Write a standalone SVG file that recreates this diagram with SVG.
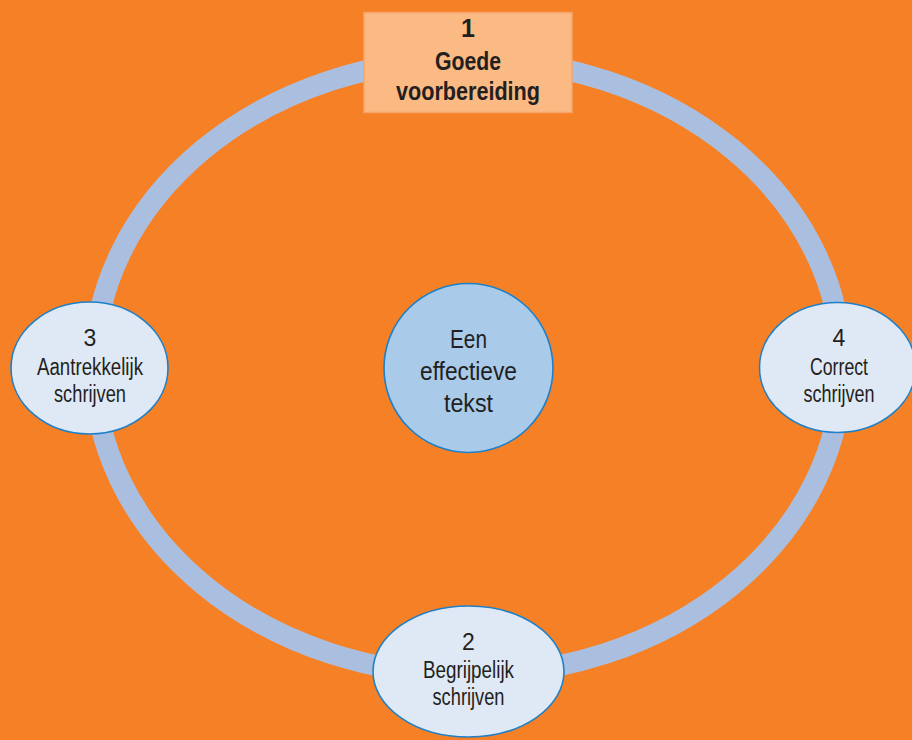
<svg xmlns="http://www.w3.org/2000/svg" width="912" height="740" viewBox="0 0 912 740">
  <style>
    .bg { fill: #F58025; }
    .ring { fill: none; stroke: #AABFE0; stroke-width: 21; }
    .node { fill: #DFE8F5; stroke: #1F80C8; stroke-width: 1.6; }
    .core { fill: #A9CAE9; stroke: #1F80C8; stroke-width: 1.6; }
    .box { fill: #FBB983; stroke: #F9A46A; stroke-width: 1.5; }
    text { font-family: "Liberation Sans", Arial, sans-serif; fill: #231F20; text-anchor: middle; }
    .lbl { font-size: 23px; }
    .big { font-size: 25px; }
    .head { font-size: 25px; font-weight: bold; }
  </style>

  <rect class="bg" x="0" y="0" width="912" height="740"/>

  <!-- cycle track joining the four steps -->
  <g id="connectors">
    <ellipse class="ring" cx="468" cy="367" rx="374" ry="308"/>
  </g>

  <g id="node-1">
    <rect class="box" x="364" y="12.5" width="208" height="100"/>
    <text class="head" x="468" y="37">1</text>
    <text class="head" x="468" y="70" textLength="66" lengthAdjust="spacingAndGlyphs">Goede</text>
    <text class="head" x="468" y="100" textLength="144" lengthAdjust="spacingAndGlyphs">voorbereiding</text>
  </g>

  <g id="node-center">
    <circle class="core" cx="468.5" cy="368" r="84.5"/>
    <text class="big" x="468.5" y="348" textLength="37" lengthAdjust="spacingAndGlyphs">Een</text>
    <text class="big" x="468.5" y="380" textLength="97" lengthAdjust="spacingAndGlyphs">effectieve</text>
    <text class="big" x="468.5" y="412" textLength="49" lengthAdjust="spacingAndGlyphs">tekst</text>
  </g>

  <g id="node-3">
    <ellipse class="node" cx="89.5" cy="368" rx="78.5" ry="66"/>
    <text class="lbl" x="90" y="346">3</text>
    <text class="lbl" x="90" y="375" textLength="106" lengthAdjust="spacingAndGlyphs">Aantrekkelijk</text>
    <text class="lbl" x="90" y="402" textLength="72" lengthAdjust="spacingAndGlyphs">schrijven</text>
  </g>

  <g id="node-4">
    <ellipse class="node" cx="837.5" cy="367.5" rx="78" ry="65"/>
    <text class="lbl" x="839" y="346">4</text>
    <text class="lbl" x="839" y="375" textLength="58" lengthAdjust="spacingAndGlyphs">Correct</text>
    <text class="lbl" x="839" y="402" textLength="71" lengthAdjust="spacingAndGlyphs">schrijven</text>
  </g>

  <g id="node-2">
    <ellipse class="node" cx="468.5" cy="671.5" rx="95.5" ry="65.5"/>
    <text class="lbl" x="468.5" y="650">2</text>
    <text class="lbl" x="468.5" y="678" textLength="91" lengthAdjust="spacingAndGlyphs">Begrijpelijk</text>
    <text class="lbl" x="468.5" y="705" textLength="72" lengthAdjust="spacingAndGlyphs">schrijven</text>
  </g>
</svg>
